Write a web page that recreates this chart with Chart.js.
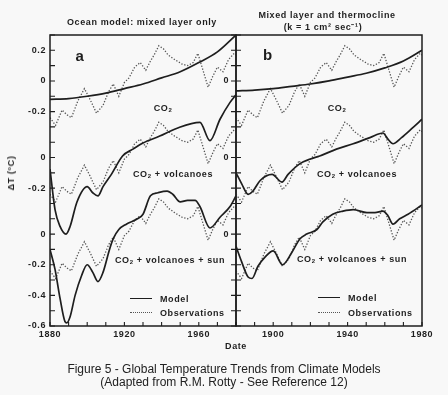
<!DOCTYPE html>
<html>
<head>
<meta charset="utf-8">
<script src="https://cdn.jsdelivr.net/npm/chart.js@4"></script>
<style>
body { margin: 0; background: #f8f8f8; }
#wrap { position: relative; width: 448px; height: 395px; overflow: hidden; font-family: "Liberation Sans", Arial, sans-serif; color: #1e1e1e; }
canvas { position: absolute; left: 0; top: 0; }
.t { position: absolute; transform: translate(-50%, -50%); white-space: nowrap; font-weight: bold; font-size: 9px; letter-spacing: 0.6px; }
.l { position: absolute; transform: translate(0, -50%); white-space: nowrap; font-weight: bold; font-size: 9px; letter-spacing: 0.6px; }
.t sub { font-size: 6px; vertical-align: -1px; }
.ln { position: absolute; width: 22px; height: 0; }
.cap { position: absolute; left: 224px; transform: translate(-50%, -50%); white-space: nowrap; font-size: 12px; color: #222; }
</style>
</head>
<body>
<div id="wrap">
  <canvas id="panelA" width="448" height="395"></canvas>
  <canvas id="panelB" width="448" height="395"></canvas>

  <div class="t" style="left:142px;top:22px">Ocean model: mixed layer only</div>
  <div class="t" style="left:327px;top:15px">Mixed layer and thermocline</div>
  <div class="t" style="left:323px;top:26px">(k = 1 cm² sec⁻¹)</div>
  <div class="t" style="left:80px;top:55px;font-size:15px">a</div>
  <div class="t" style="left:268px;top:54px;font-size:15px">b</div>

  <div class="t" style="left:163px;top:108px">CO<sub>2</sub></div>
  <div class="t" style="left:337px;top:108px">CO<sub>2</sub></div>
  <div class="t" style="left:173px;top:174px">CO<sub>2</sub> + volcanoes</div>
  <div class="t" style="left:357px;top:174px">CO<sub>2</sub> + volcanoes</div>
  <div class="t" style="left:170px;top:260px">CO<sub>2</sub> + volcanoes + sun</div>
  <div class="t" style="left:352px;top:259px">CO<sub>2</sub> + volcanoes + sun</div>

  <div class="ln" style="left:130px;top:298px;border-top:1.6px solid #1e1e1e"></div>
  <div class="l" style="left:160px;top:299px">Model</div>
  <div class="ln" style="left:130px;top:312px;border-top:1.3px dotted #555"></div>
  <div class="l" style="left:160px;top:313px">Observations</div>
  <div class="ln" style="left:318px;top:297px;border-top:1.6px solid #1e1e1e"></div>
  <div class="l" style="left:348px;top:298px">Model</div>
  <div class="ln" style="left:318px;top:312px;border-top:1.3px dotted #555"></div>
  <div class="l" style="left:348px;top:313px">Observations</div>

  <div class="t" style="left:11px;top:173px;transform:translate(-50%,-50%) rotate(-90deg)">ΔT (°C)</div>
  <div class="t" style="left:236px;top:346px">Date</div>

  <div class="cap" style="top:369px">Figure 5 - Global Temperature Trends from Climate Models</div>
  <div class="cap" style="top:382px">(Adapted from R.M. Rotty - See Reference 12)</div>
</div>

<script>
// observed global temperature (same record in every curve pair)
const obsYears = [1880, 1883, 1886.5, 1889, 1891.5, 1895, 1898.5, 1901.5, 1905, 1908.5,
  1911.5, 1914, 1917, 1920, 1922.5, 1925.5, 1928.5, 1931.5, 1934, 1936, 1938.5, 1941,
  1943.5, 1947, 1951, 1954, 1957, 1959.5, 1962, 1965, 1967.5, 1970, 1973, 1976, 1979, 1980];
const obsValues = [-0.24, -0.29, -0.19, -0.22, -0.24, -0.13, -0.05, -0.12, -0.21, -0.16,
  -0.07, -0.02, -0.10, -0.01, 0.02, 0.09, 0.12, 0.07, 0.13, 0.17, 0.23, 0.21,
  0.17, 0.14, 0.11, 0.10, 0.12, 0.18, 0.08, -0.04, 0.03, 0.09, 0.06, 0.14, 0.18, 0.17];

// panel a: mixed layer only
const aCo2Years = [1880, 1890, 1900, 1910, 1920, 1930, 1940, 1950, 1960, 1970, 1980];
const aCo2Values = [-0.12, -0.115, -0.10, -0.08, -0.05, -0.02, 0.02, 0.06, 0.12, 0.19, 0.30];

const aVolcYears = [1880, 1882.7, 1885.4, 1888.6, 1890.8, 1894.5, 1900, 1903, 1905.8, 1908.5,
  1913, 1919, 1924.6, 1930, 1939, 1948, 1960.6, 1966, 1971.4, 1976.8, 1980];
const aVolcValues = [-0.075, -0.34, -0.45, -0.50, -0.45, -0.29, -0.19, -0.23, -0.25, -0.19,
  -0.11, 0.01, 0.055, 0.095, 0.14, 0.19, 0.23, 0.11, 0.25, 0.36, 0.41];

const aSunYears = [1880, 1882.7, 1885.4, 1888, 1889, 1890.8, 1893.5, 1897, 1900, 1903, 1905.8,
  1908.5, 1912, 1914, 1917, 1921, 1927, 1930, 1934, 1938, 1943, 1946, 1950, 1954, 1958,
  1960.6, 1966, 1971.4, 1976.8, 1980];
const aSunValues = [-0.10, -0.23, -0.42, -0.57, -0.58, -0.54, -0.40, -0.27, -0.20, -0.25, -0.31,
  -0.25, -0.10, -0.03, 0.03, 0.065, 0.10, 0.13, 0.25, 0.27, 0.28, 0.26, 0.21, 0.22, 0.22,
  0.18, 0.04, 0.11, 0.18, 0.25];

// panel b: mixed layer and thermocline
const bCo2Years = [1880, 1890, 1900, 1910, 1920, 1930, 1940, 1950, 1960, 1970, 1980];
const bCo2Values = [-0.065, -0.06, -0.05, -0.035, -0.02, 0.0, 0.025, 0.05, 0.085, 0.13, 0.20];

const bVolcYears = [1880, 1883, 1886.5, 1889, 1893, 1899.4, 1904.7, 1908, 1914.4, 1920, 1925,
  1934, 1943, 1952, 1959, 1961.7, 1964.4, 1969, 1974.6, 1980];
const bVolcValues = [-0.10, -0.17, -0.24, -0.22, -0.15, -0.11, -0.16, -0.11, -0.04, -0.01, 0.01,
  0.055, 0.09, 0.13, 0.16, 0.12, 0.09, 0.13, 0.19, 0.25];

const bSunYears = [1880, 1883, 1886.5, 1888.6, 1891.8, 1895.6, 1900, 1905, 1910, 1914.4, 1918,
  1923.5, 1926.7, 1932, 1937.5, 1943, 1950.4, 1954.7, 1959, 1961.7, 1964.4, 1968, 1972.5, 1980];
const bSunValues = [-0.08, -0.18, -0.28, -0.29, -0.21, -0.15, -0.11, -0.20, -0.12, -0.03, 0.0,
  0.03, 0.08, 0.13, 0.15, 0.16, 0.14, 0.14, 0.15, 0.12, 0.065, 0.10, 0.13, 0.19];

// y tick labels (axis value x10 -> label); each curve pair sits on its own zero
const aTickLabels = { 12: "0.2", 10: "0", 8: "-0.2", 5: "0", 3: "-0.2", 0: "0", "-2": "-0.2", "-4": "-0.4", "-6": "-0.6" };
const bTickLabels = { 10: "0", 5: "0", 0: "0" };
const groupOffsets = [1.0, 0.5, 0];

Chart.defaults.font.family = "'Liberation Sans', Arial, sans-serif";
Chart.defaults.font.size = 9;
Chart.defaults.font.weight = "bold";
Chart.defaults.color = "#1e1e1e";

function pts(xs, ys, off) {
  return xs.map((x, i) => ({ x: x, y: ys[i] + off }));
}

function pairs(models) {
  const sets = [];
  models.forEach((m, g) => {
    sets.push({
      data: pts(m[0], m[1], groupOffsets[g]),
      borderColor: "#1e1e1e", borderWidth: 1.7,
      pointRadius: 0, cubicInterpolationMode: "monotone"
    });
    sets.push({
      data: pts(obsYears, obsValues, groupOffsets[g]),
      borderColor: "#555", borderWidth: 1.3, borderDash: [1.3, 1.7],
      pointRadius: 0, tension: 0
    });
  });
  return sets;
}

const frameTicks = {
  id: "frameTicks",
  beforeDraw(chart) {
    chart.ctx.letterSpacing = "0.6px";
  },
  afterDraw(chart, args, opts) {
    const { ctx, chartArea: a, scales } = chart;
    ctx.save();
    ctx.strokeStyle = "#1e1e1e";
    ctx.lineWidth = 1.5;
    ctx.strokeRect(a.left, a.top, a.right - a.left, a.bottom - a.top);
    ctx.lineWidth = 1.1;
    ctx.beginPath();
    scales.x.ticks.forEach(t => {
      const px = scales.x.getPixelForValue(t.value);
      ctx.moveTo(px, a.bottom);
      ctx.lineTo(px, a.bottom - 4);
    });
    scales.y.ticks.forEach(t => {
      const py = scales.y.getPixelForValue(t.value);
      ctx.moveTo(a.left - opts.out, py);
      ctx.lineTo(a.left + 5, py);
    });
    ctx.stroke();
    ctx.restore();
  }
};

function makePanel(id, models, yLabels, xFirst, axisLeft, axisRight, tickOut, yPad) {
  new Chart(document.getElementById(id), {
    type: "line",
    data: { datasets: pairs(models) },
    options: {
      responsive: false,
      animation: false,
      layout: { padding: { left: 0, right: 448 - axisRight, top: 35, bottom: 0 } },
      plugins: { legend: { display: false }, tooltip: { enabled: false }, frameTicks: { out: tickOut } },
      scales: {
        x: {
          type: "linear", min: 1880, max: 1980,
          grid: { display: false, drawTicks: false },
          border: { display: false },
          afterFit: s => { s.height = 395 - 326; },
          ticks: {
            stepSize: 10, autoSkip: false, maxRotation: 0, padding: 3,
            callback: v => ((v - xFirst) % 40 === 0 && v >= xFirst ? String(v) : "")
          }
        },
        y: {
          type: "linear", min: -0.6, max: 1.3,
          grid: { display: false, drawTicks: false },
          border: { display: false },
          afterFit: s => { s.width = axisLeft; },
          ticks: {
            stepSize: 0.1, autoSkip: false, padding: yPad,
            callback: v => yLabels[Math.round(v * 10)] || ""
          }
        }
      }
    },
    plugins: [frameTicks]
  });
}

makePanel("panelA", [[aCo2Years, aCo2Values], [aVolcYears, aVolcValues], [aSunYears, aSunValues]],
  aTickLabels, 1880, 50, 236, 0, 4);
makePanel("panelB", [[bCo2Years, bCo2Values], [bVolcYears, bVolcValues], [bSunYears, bSunValues]],
  bTickLabels, 1900, 236, 422, 5, 7);
</script>
</body>
</html>
